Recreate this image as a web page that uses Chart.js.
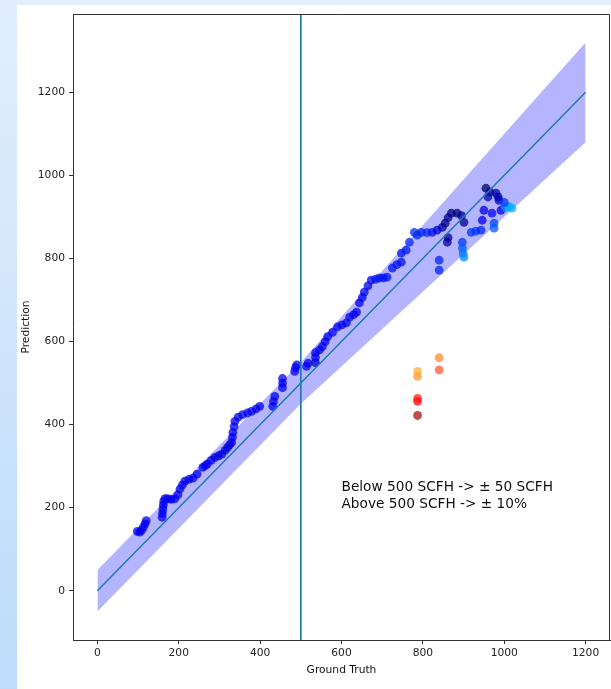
<!DOCTYPE html>
<html>
<head>
<meta charset="utf-8">
<script src="https://cdn.jsdelivr.net/npm/chart.js@4/dist/chart.umd.min.js"></script>
<style>
  body { margin: 0; background: #ffffff; width: 611px; height: 689px; overflow: hidden; position: relative; }
  #top-strip { position: absolute; left: 0; top: 0; width: 611px; height: 5px; background: #e2eefc; }
  #left-strip { position: absolute; left: 0; top: 0; width: 17px; height: 689px;
    background: linear-gradient(to bottom, #e2eefc, #bddcfb); }
  #card { position: absolute; left: 17px; top: 5px; width: 594px; height: 684px; background: #fff; }
</style>
</head>
<body>
<div id="top-strip"></div>
<div id="left-strip"></div>
<div id="card"><canvas id="chart" width="594" height="684"></canvas></div>
<script>
// measured flow readings inside the tolerance band
const truthBlue = [98, 104, 109, 113, 117, 120, 159, 160, 161, 162, 163, 166, 173, 181, 190, 198, 203, 209, 215, 225,
  235, 245, 259, 265, 270, 280, 289, 298, 306, 314, 320, 325, 330, 332, 333, 336, 338, 346, 357, 369,
  379, 390, 399, 431, 433, 436, 455, 455, 455, 485, 487, 490, 514, 518, 536, 536, 536, 546, 553, 560,
  566, 578, 590, 601, 612, 620, 630, 637, 644, 651, 656, 665, 673, 684, 693, 703, 712, 725, 736, 747,
  747, 759, 767, 779, 786, 796, 810, 823, 835, 848, 855, 862, 870, 884, 895, 901, 862, 860, 840, 840,
  897, 897, 899, 901, 919, 930, 943, 946, 950, 955, 965, 980, 987, 992, 970, 975, 975, 1004, 1012, 1019,
  1000, 985, 960];
const predBlue = [143, 141, 146, 153, 161, 169, 177, 186, 196, 206, 215, 222, 222, 220, 221, 231, 245, 255, 264, 268,
  271, 281, 297, 301, 305, 314, 321, 325, 329, 338, 345, 351, 357, 370, 381, 395, 408, 418, 424, 428,
  432, 438, 444, 444, 456, 468, 489, 500, 511, 528, 537, 544, 540, 548, 549, 562, 573, 580, 588, 600,
  612, 622, 635, 640, 645, 659, 665, 671, 693, 706, 719, 734, 748, 750, 753, 753, 755, 777, 785, 791,
  813, 820, 839, 863, 856, 863, 862, 863, 868, 875, 885, 898, 909, 909, 903, 887, 850, 839, 796, 772,
  839, 825, 812, 803, 863, 866, 868, 892, 916, 969, 960, 957, 940, 916, 909, 885, 873, 923, 925, 921,
  935, 948, 948];
const toneBlue = [0.35, 0.35, 0.35, 0.35, 0.35, 0.35, 0.35, 0.35, 0.35, 0.35, 0.35, 0.35, 0.35, 0.35, 0.35, 0.35, 0.35, 0.35, 0.35, 0.35,
  0.35, 0.35, 0.35, 0.35, 0.35, 0.35, 0.3, 0.3, 0.3, 0.3, 0.3, 0.3, 0.3, 0.35, 0.35, 0.35, 0.35, 0.35, 0.35, 0.35,
  0.35, 0.35, 0.35, 0.35, 0.35, 0.35, 0.35, 0.35, 0.35, 0.35, 0.35, 0.35, 0.35, 0.35, 0.25, 0.35, 0.35, 0.35, 0.35, 0.35,
  0.35, 0.35, 0.35, 0.35, 0.35, 0.35, 0.35, 0.35, 0.35, 0.35, 0.35, 0.35, 0.35, 0.4, 0.4, 0.4, 0.4, 0.4, 0.4, 0.4,
  0.4, 0.42, 0.45, 0.47, 0.47, 0.45, 0.45, 0.4, 0.3, 0.15, 0.1, 0.1, 0.05, 0.05, 0.1, 0.1, 0.1, 0.15, 0.45, 0.45,
  0.5, 0.6, 0.7, 0.8, 0.5, 0.5, 0.45, 0.35, 0.3, 0.0, 0.1, 0.15, 0.25, 0.3, 0.35, 0.55, 0.6, 0.85, 0.9, 0.95,
  0.5, 0.2, 0.2];

// readings far outside the band
const truthOut = [787, 787, 787, 787, 787, 840, 840];
const predOut = [422, 456, 463, 516, 528, 532, 561];
const toneOut = [0.1, 0.35, 0.4, 0.75, 0.85, 0.55, 0.7];

// tolerance band: +-50 below 500, +-10% above
const bandX = [0, 500, 1200];
const bandLow = [-50, 450, 1080];
const bandHigh = [50, 550, 1320];
const idealX = [0, 1200];
const idealY = [0, 1200];
const cutoff = 500;

const xTicks = [0, 200, 400, 600, 800, 1000, 1200];
const yTicks = [0, 200, 400, 600, 800, 1000, 1200];
const xRange = [-60, 1260];
const yRange = [-118.5, 1388.5];

const noteX = 600;
const noteY = 200;
const noteLines = ["Below 500 SCFH -> \u00b1 50 SCFH", "Above 500 SCFH -> \u00b1 10%"];

const blueStops = [[0, [0, 0, 105]], [0.35, [0, 0, 240]], [0.6, [0, 90, 255]], [1, [0, 190, 255]]];
const hotStops = [[0, [125, 15, 15]], [0.35, [255, 0, 0]], [0.55, [255, 85, 40]], [0.75, [255, 150, 40]], [1, [255, 205, 60]]];

function colormap(stops, t, alpha) {
  for (let i = 1; i < stops.length; i++) {
    if (t <= stops[i][0]) {
      const [t0, c0] = stops[i - 1];
      const [t1, c1] = stops[i];
      const f = (t - t0) / (t1 - t0);
      const c = c0.map((v, k) => Math.round(v + (c1[k] - v) * f));
      return `rgba(${c[0]},${c[1]},${c[2]},${alpha})`;
    }
  }
  const c = stops[stops.length - 1][1];
  return `rgba(${c[0]},${c[1]},${c[2]},${alpha})`;
}

const toPoints = (xs, ys) => xs.map((x, i) => ({ x: x, y: ys[i] }));

const FONT = "'DejaVu Sans', sans-serif";
const INK = "#333333";

// matplotlib style box: close the top and right sides, and draw the note
const framePlugin = {
  id: "frame",
  afterDraw(chart) {
    const { ctx, chartArea } = chart;
    const x = chart.scales.x, y = chart.scales.y;
    ctx.save();
    ctx.strokeStyle = INK;
    ctx.lineWidth = 1;
    ctx.beginPath();
    ctx.moveTo(Math.round(chartArea.left) + 0.5, Math.round(chartArea.top) + 0.5);
    ctx.lineTo(Math.round(chartArea.right) - 0.5, Math.round(chartArea.top) + 0.5);
    ctx.lineTo(Math.round(chartArea.right) - 0.5, Math.round(chartArea.bottom) + 0.5);
    ctx.stroke();

    ctx.fillStyle = "#111";
    ctx.font = "13.7px " + FONT;
    ctx.textAlign = "left";
    ctx.textBaseline = "alphabetic";
    const px = x.getPixelForValue(noteX);
    const py = y.getPixelForValue(noteY);
    const gap = 16.5;
    noteLines.forEach((line, i) => {
      ctx.fillText(line, px, py - (noteLines.length - 1 - i) * gap);
    });
    ctx.restore();
  }
};

const axisGrid = {
  display: true,
  drawOnChartArea: false,
  drawTicks: true,
  tickLength: 4,
  color: INK,
  lineWidth: 1
};

new Chart(document.getElementById("chart"), {
  type: "scatter",
  data: {
    datasets: [
      {
        type: "line",
        data: toPoints(bandX, bandLow),
        borderWidth: 0,
        pointRadius: 0,
        fill: false,
        order: 6
      },
      {
        type: "line",
        data: toPoints(bandX, bandHigh),
        borderWidth: 0,
        pointRadius: 0,
        backgroundColor: "rgba(0,0,255,0.29)",
        fill: "-1",
        order: 5
      },
      {
        data: toPoints(truthBlue, predBlue),
        pointRadius: 4.4,
        pointBorderWidth: 0,
        pointBackgroundColor: toneBlue.map((t) => colormap(blueStops, t, 0.75)),
        order: 4
      },
      {
        data: toPoints(truthOut, predOut),
        pointRadius: 4.4,
        pointBorderWidth: 0,
        pointBackgroundColor: toneOut.map((t) => colormap(hotStops, t, 0.72)),
        order: 3
      },
      {
        type: "line",
        data: toPoints(idealX, idealY),
        borderColor: "#1f77b4",
        borderWidth: 1.5,
        pointRadius: 0,
        fill: false,
        order: 2
      },
      {
        type: "line",
        data: [{ x: cutoff, y: yRange[0] }, { x: cutoff, y: yRange[1] }],
        borderColor: "#1f77b4",
        borderWidth: 1.7,
        pointRadius: 0,
        fill: false,
        order: 1
      }
    ]
  },
  options: {
    responsive: false,
    animation: false,
    events: [],
    layout: { autoPadding: false, padding: { left: 0, top: 9, right: 1, bottom: 0 } },
    plugins: {
      legend: { display: false },
      tooltip: { enabled: false }
    },
    scales: {
      x: {
        type: "linear",
        min: xRange[0],
        max: xRange[1],
        afterBuildTicks: (axis) => { axis.ticks = xTicks.map((v) => ({ value: v })); },
        afterFit: (axis) => {
          axis.height = 49;
          axis.paddingLeft = 0;
          axis.paddingRight = 0;
        },
        grid: axisGrid,
        border: { display: true, color: INK, width: 1 },
        ticks: {
          color: "#222",
          font: { family: FONT, size: 10.7 },
          padding: 3,
          maxRotation: 0,
          callback: (v) => String(v)
        },
        title: {
          display: true,
          text: "Ground Truth",
          color: "#111",
          font: { family: FONT, size: 10.7 },
          padding: { top: 0, bottom: 12 }
        }
      },
      y: {
        type: "linear",
        min: yRange[0],
        max: yRange[1],
        afterBuildTicks: (axis) => { axis.ticks = yTicks.map((v) => ({ value: v })); },
        afterFit: (axis) => {
          axis.width = 56;
          axis.paddingTop = 0;
          axis.paddingBottom = 0;
        },
        grid: axisGrid,
        border: { display: true, color: INK, width: 1 },
        ticks: {
          color: "#222",
          font: { family: FONT, size: 10.7 },
          padding: 4,
          callback: (v) => String(v)
        },
        title: {
          display: true,
          text: "Prediction",
          color: "#111",
          font: { family: FONT, size: 10.7 },
          padding: { top: 3, bottom: 0 }
        }
      }
    }
  },
  plugins: [framePlugin]
});
</script>
</body>
</html>
